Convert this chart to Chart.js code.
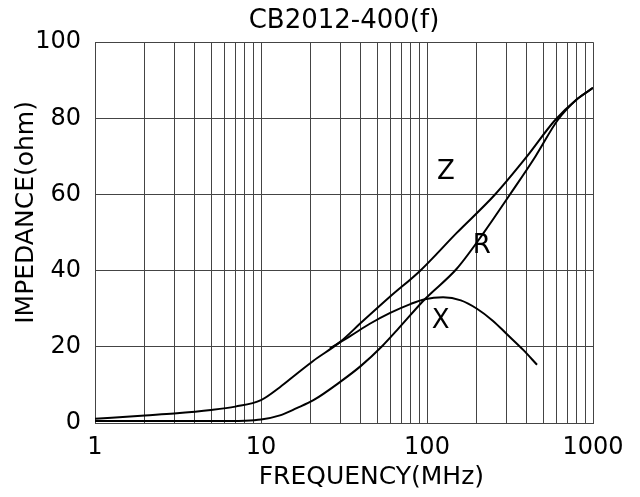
<!DOCTYPE html>
<html>
<head>
<meta charset="utf-8">
<script src="https://cdn.jsdelivr.net/npm/chart.js@4/dist/chart.umd.min.js"></script>
<style>
  html, body { margin: 0; padding: 0; background: #fff; }
  #box { width: 640px; height: 497px; position: relative; }
</style>
</head>
<body>
<div id="box"><canvas id="imp"></canvas></div>
<script>
// Данные -------------------------------------------------------------------------------------------------------------
var zFreq = [1, 2, 3, 5, 7, 10, 13, 16.5, 20.6, 30, 40, 60, 91, 150, 257, 400, 590, 800, 1000];
var zOhm  = [1.1, 2.0, 2.5, 3.4, 4.3, 6.0, 9.4, 13.0, 16.3, 21.3, 26.3, 33.2, 40.0, 49.8, 60.0, 70.0, 79.5, 85.0, 88.0];

var rFreq = [1, 2, 5, 8, 10, 13, 16.4, 20.7, 30, 40, 54, 66, 97, 151, 220, 316, 450, 612, 800, 1000];
var rOhm  = [0.5, 0.5, 0.5, 0.6, 0.9, 2.0, 3.9, 6.0, 10.8, 15.0, 20.3, 24.4, 32.5, 40.5, 50.0, 60.0, 70.0, 79.5, 85.0, 88.0];

var xFreq = [26, 35, 45, 60, 80, 97, 125, 160, 200, 250, 300, 380, 460];
var xOhm  = [19.6, 23.0, 26.0, 28.9, 31.3, 32.5, 33.0, 32.2, 30.0, 26.8, 23.5, 19.2, 15.3];

var gridFreqs  = [1, 2, 3, 4, 5, 6, 7, 8, 9, 10, 20, 30, 40, 50, 60, 70, 80, 90,
                  100, 200, 300, 400, 500, 600, 700, 800, 900, 1000];
var freqLabels = [1, 10, 100, 1000];

var curveNames = ['Z', 'R', 'X'];
var nameFreq   = [130, 214, 121];
var nameOhm    = [65.9, 46.5, 26.8];

var FONT = 'DejaVu Sans';

function pts(fs, vs) {
    return fs.map(function (f, i) { return {x: f, y: vs[i]}; });
}

// Подписи осей и кривых -----------------------------------------------------------------------------------------------
var textPlugin = {
    id: 'texts',
    afterDraw: function (chart) {
        var ctx = chart.ctx;
        var a = chart.chartArea;
        var sx = chart.scales.x, sy = chart.scales.y;
        ctx.save();
        ctx.fillStyle = '#000';
        ctx.textAlign = 'center';
        ctx.textBaseline = 'middle';

        ctx.font = '26px "' + FONT + '"';
        curveNames.forEach(function (n, i) {
            ctx.fillText(n, sx.getPixelForValue(nameFreq[i]), sy.getPixelForValue(nameOhm[i]));
        });

        ctx.font = '25px "' + FONT + '"';
        ctx.fillText('FREQUENCY(MHz)', a.left + (a.right - a.left) * 0.555, a.bottom + 54);

        ctx.translate(26, a.top + (a.bottom - a.top) * 0.447);
        ctx.rotate(-Math.PI / 2);
        ctx.fillText('IMPEDANCE(ohm)', 0, 0);
        ctx.restore();
    }
};

var ctx = document.getElementById('imp').getContext('2d');
var chart = new Chart(ctx, {
    type: 'line',
    data: {
        datasets: [
            {label: 'Z', data: pts(zFreq, zOhm)},
            {label: 'R', data: pts(rFreq, rOhm)},
            {label: 'X', data: pts(xFreq, xOhm)}
        ]
    },
    options: {
        responsive: true,
        maintainAspectRatio: false,
        animation: false,
        layout: {padding: {left: 0, right: 47, top: 0, bottom: 0}},
        elements: {
            line: {borderColor: '#000', borderWidth: 2, cubicInterpolationMode: 'monotone', fill: false},
            point: {radius: 0}
        },
        plugins: {
            legend: {display: false},
            tooltip: {enabled: false},
            title: {
                display: true,
                text: 'CB2012-400(f)',
                fullSize: false,
                color: '#000',
                font: {family: FONT, size: 26, weight: 'normal'},
                padding: {top: 6, bottom: 5}
            }
        },
        scales: {
            x: {
                type: 'logarithmic',
                min: 1,
                max: 1000,
                afterBuildTicks: function (scale) {
                    scale.ticks = gridFreqs.map(function (v) { return {value: v}; });
                },
                afterFit: function (scale) { scale.height = 74; },
                grid: {color: '#444', lineWidth: 1, drawTicks: false},
                border: {color: '#444', width: 1},
                ticks: {
                    autoSkip: false,
                    maxRotation: 0,
                    padding: 10,
                    color: '#000',
                    font: {family: FONT, size: 24},
                    callback: function (v) { return freqLabels.indexOf(v) >= 0 ? String(v) : ''; }
                }
            },
            y: {
                min: 0,
                max: 100,
                afterFit: function (scale) { scale.width = 95; },
                grid: {color: '#444', lineWidth: 1, drawTicks: false},
                border: {color: '#444', width: 1},
                ticks: {
                    stepSize: 20,
                    padding: 14,
                    color: '#000',
                    font: {family: FONT, size: 24}
                }
            }
        }
    },
    plugins: [textPlugin]
});
</script>
</body>
</html>
